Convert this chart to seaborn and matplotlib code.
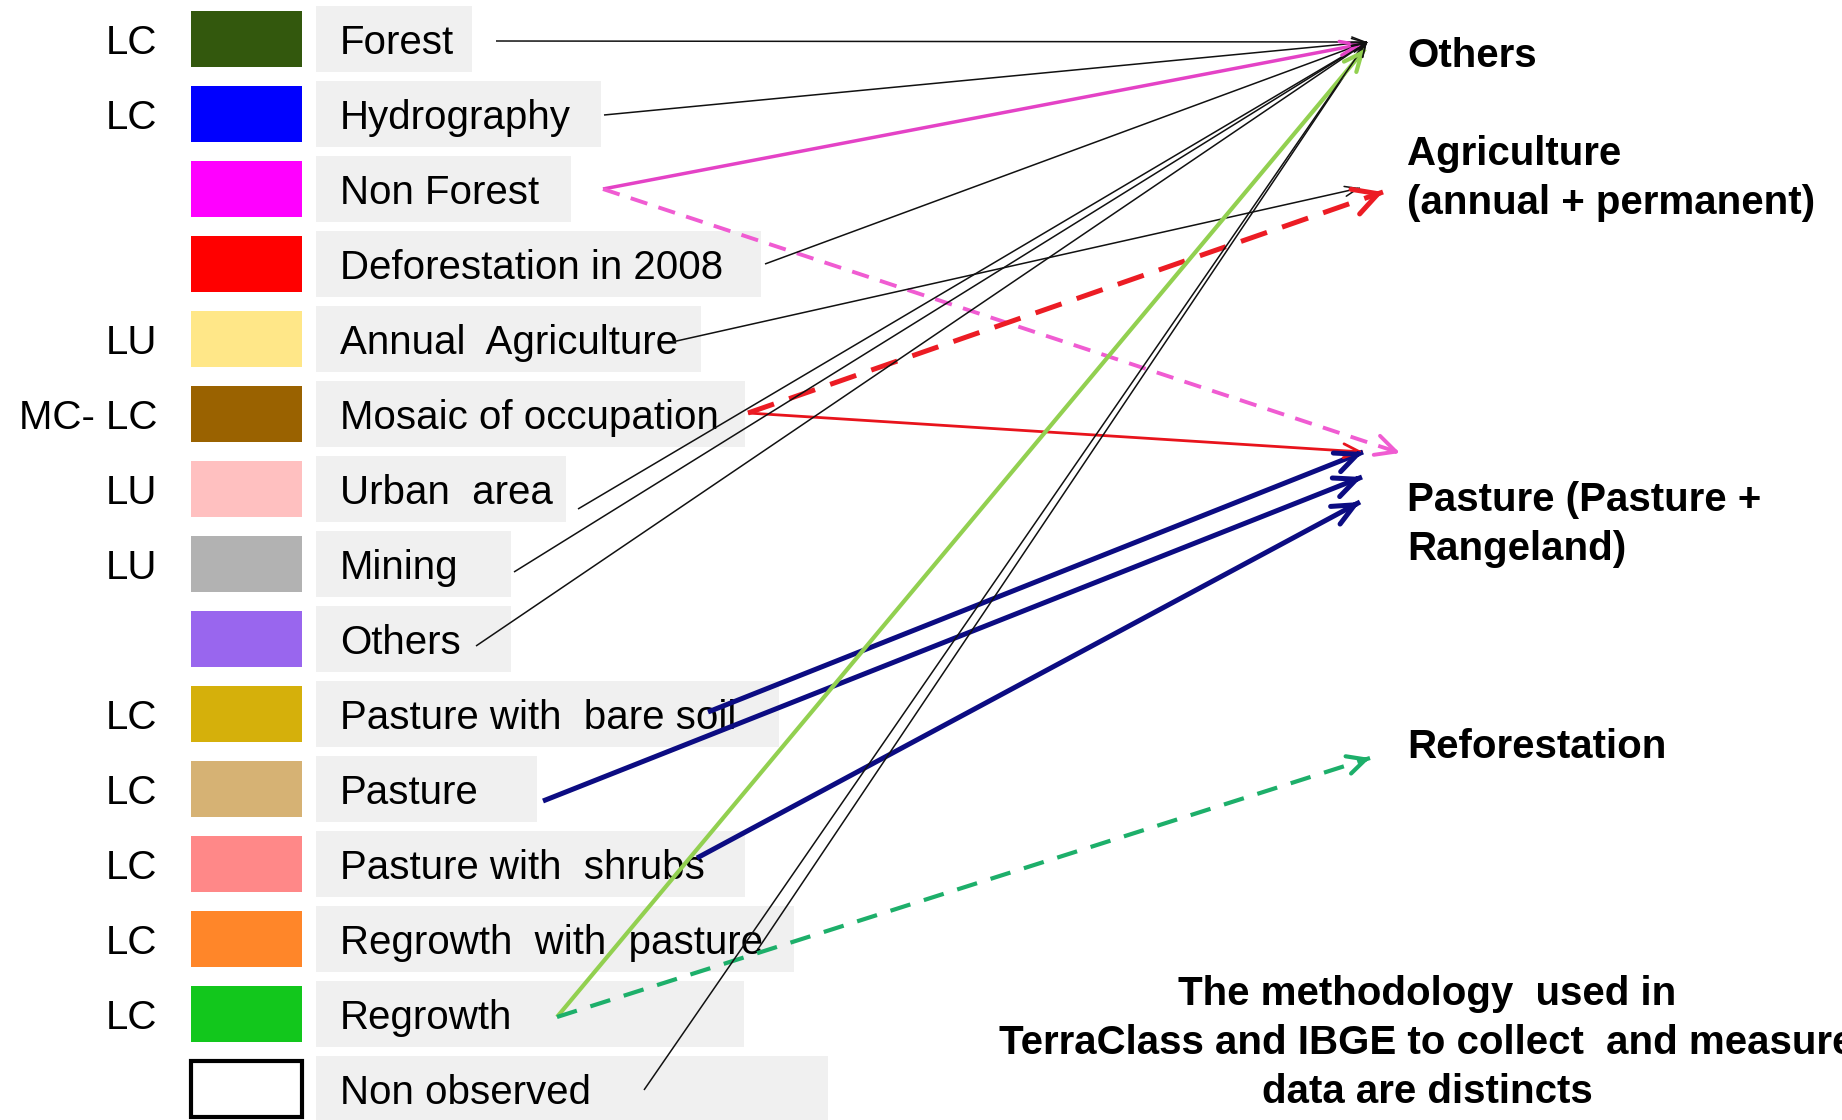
"""
TerraClass -> IBGE class correspondence diagram.
"""

import matplotlib
matplotlib.use("Agg")
import matplotlib.pyplot as plt
from matplotlib import font_manager
from matplotlib.patches import Rectangle
import pandas as pd
import seaborn as sns

# TerraClass classes (left column)
categories = ["Forest", "Hydrography", "Non Forest", "Deforestation in 2008",
              "Annual  Agriculture", "Mosaic of occupation", "Urban  area", "Mining",
              "Others", "Pasture with  bare soil", "Pasture", "Pasture with  shrubs",
              "Regrowth  with  pasture", "Regrowth", "Non observed"]
class_codes = ["LC", "LC", "", "", "LU", "MC- LC", "LU", "LU", "", "LC", "LC",
               "LC", "LC", "LC", ""]
swatch_colors = ["#33580D", "#0000FF", "#FF00FF", "#FF0000", "#FFE788", "#9A6200",
                 "#FFC0C0", "#B2B2B2", "#9966EE", "#D5B00B", "#D6B274", "#FF8888",
                 "#FF8629", "#12C71C", "#FFFFFF"]

# IBGE classes (right column)
targets = ["Others", "Agriculture\n(annual + permanent)",
           "Pasture (Pasture +\nRangeland)", "Reforestation"]

# correspondences: source class -> target class, arrow kind
link_source = ["Forest", "Hydrography", "Non Forest", "Non Forest",
               "Deforestation in 2008", "Annual  Agriculture", "Mosaic of occupation",
               "Mosaic of occupation", "Urban  area", "Mining", "Others",
               "Pasture with  bare soil", "Pasture", "Pasture with  shrubs",
               "Regrowth  with  pasture", "Regrowth", "Regrowth", "Non observed"]
link_target = [0, 0, 0, 2, 0, 1, 2, 1, 0, 0, 0, 2, 2, 2, 0, 0, 3, 0]
link_kind = ["thin", "thin", "magenta", "magenta_dash", "thin", "thin", "red",
             "red_dash", "thin", "thin", "thin", "navy", "navy", "navy", "thin",
             "green", "green_dash", "thin"]

note_lines = ["The methodology  used in",
              "TerraClass and IBGE to collect  and measure",
              "data are distincts"]

# ---- layout (figure pixels) ----
W, H = 1842, 1120
ROW_Y0, ROW_STEP = 39, 75
SW_X0, SW_W, SW_H = 191, 111, 56
BOX_X0, BOX_H = 316, 66
box_right = [472, 601, 571, 761, 701, 745, 566, 511, 511, 779, 537, 745, 794, 744, 828]
TEXT_X, CODE_X, TEXT_DY = 340, 157, 4
TARGET_X, TARGET_LINE = 1407, 49
target_y = [56, 154, 500, 747]
target_tip = [(1367, 42), (1360, 188), (1363, 452), (1370, 758)]
link_x0 = [496, 604, 603, 603, 765, 672, 748, 748, 578, 514, 476, 708, 543, 697,
           758, 557, 557, 644]
link_dy0 = [2, 1, 0, 0, 0, 3, -1, -1, 20, 8, 7, -2, 12, -6, 10, 3, 3, 1]
tip_off = [(0, 0), (0, 0), (-4, 2), (37, 1), (0, 0), (0, 0), (0, 0), (23, 4),
           (0, 0), (0, 0), (0, 0), (0, 0), (-1, 25), (-3, 50), (0, 0), (-2, 7),
           (0, 0), (0, 0)]

styles = {
    "thin":         dict(color="#111111", lw=1.1, dash=(1, 0), head=(13, 5)),
    "magenta":      dict(color="#E442C6", lw=2.5, dash=(1, 0), head=(18, 7)),
    "magenta_dash": dict(color="#F05CD2", lw=2.8, dash=(4.5, 3.0), head=(20, 10)),
    "red":          dict(color="#E8141C", lw=2.0, dash=(1, 0), head=(16, 7)),
    "red_dash":     dict(color="#EC1C24", lw=3.6, dash=(5.5, 3.2), head=(24, 13)),
    "navy":         dict(color="#0C0C82", lw=3.6, dash=(1, 0), head=(22, 10)),
    "green":        dict(color="#92D050", lw=3.0, dash=(1, 0), head=(18, 8)),
    "green_dash":   dict(color="#1DAF6A", lw=3.0, dash=(5.0, 3.4), head=(18, 9)),
}

sns.set_theme(style="white")
avail = {f.name for f in font_manager.fontManager.ttflist}
narrow = "Liberation Sans Narrow" if "Liberation Sans Narrow" in avail else "Liberation Sans"
label_size = 34 if narrow == "Liberation Sans Narrow" else 29
plt.rcParams["font.family"] = ["Liberation Sans", "DejaVu Sans"]

fig = plt.figure(figsize=(W / 100, H / 100), dpi=100)
ax = fig.add_axes([0, 0, 1, 1])
ax.set_xlim(0, W)
ax.set_ylim(H, 0)
ax.axis("off")

row_y = {c: ROW_Y0 + i * ROW_STEP for i, c in enumerate(categories)}

# left column: code, colour swatch, grey label box
for i, cat in enumerate(categories):
    y = row_y[cat]
    ax.add_patch(Rectangle((BOX_X0, y - BOX_H / 2), box_right[i] - BOX_X0, BOX_H,
                           facecolor="#F0F0F0", edgecolor="none", zorder=1))
    edge = "black" if swatch_colors[i] == "#FFFFFF" else "none"
    ax.add_patch(Rectangle((SW_X0, y - SW_H / 2), SW_W, SW_H, facecolor=swatch_colors[i],
                           edgecolor=edge, lw=3, zorder=2))
    ax.text(TEXT_X, y + TEXT_DY, cat, family=[narrow, "DejaVu Sans"], fontsize=label_size,
            ha="left", va="center", color="black", zorder=3)
    if class_codes[i]:
        ax.text(CODE_X, y + TEXT_DY, class_codes[i], family=[narrow, "DejaVu Sans"],
                fontsize=label_size, ha="right", va="center", color="black", zorder=3)

# right column labels
for t, ty in zip(targets, target_y):
    for k, line in enumerate(t.split("\n")):
        ax.text(TARGET_X, ty + k * TARGET_LINE, line, fontsize=29, fontweight="bold",
                ha="left", va="center", color="black", zorder=3)

# link shafts through seaborn
rows = []
for j, src in enumerate(link_source):
    tx, ty = target_tip[link_target[j]]
    dx, dy = tip_off[j]
    rows.append(dict(link=j, x=link_x0[j], y=row_y[src] + link_dy0[j]))
    rows.append(dict(link=j, x=tx + dx, y=ty + dy))
links = pd.DataFrame(rows)

sns.lineplot(data=links, x="x", y="y", hue="link", style="link", size="link",
             palette={j: styles[k]["color"] for j, k in enumerate(link_kind)},
             dashes={j: styles[k]["dash"] for j, k in enumerate(link_kind)},
             sizes={j: styles[k]["lw"] for j, k in enumerate(link_kind)},
             estimator=None, sort=False, legend=False, ax=ax, zorder=4)
ax.set_xlim(0, W)
ax.set_ylim(H, 0)
ax.set_xlabel("")
ax.set_ylabel("")

# open arrow heads
for j, grp in links.groupby("link"):
    st = styles[link_kind[j]]
    (x0, y0), (x1, y1) = grp[["x", "y"]].values
    L = ((x1 - x0) ** 2 + (y1 - y0) ** 2) ** 0.5
    bx, by = x1 - (x1 - x0) / L * 6, y1 - (y1 - y0) / L * 6
    hl, hw = st["head"]
    ax.annotate("", xy=(x1, y1), xytext=(bx, by),
                arrowprops=dict(arrowstyle=f"->,head_length={hl * 0.72:.1f},head_width={hw * 0.72:.1f}",
                                color=st["color"], lw=st["lw"], shrinkA=0, shrinkB=0,
                                mutation_scale=1), zorder=5)

# note at the bottom right (last word runs off the edge, as in the source slide)
for k, line in enumerate(note_lines):
    ax.text(1427, 994 + k * 49, line, family=[narrow, "DejaVu Sans"], fontsize=label_size,
            fontweight="bold", ha="center", va="center", color="black", zorder=3)

fig.savefig("out.png", dpi=100)
